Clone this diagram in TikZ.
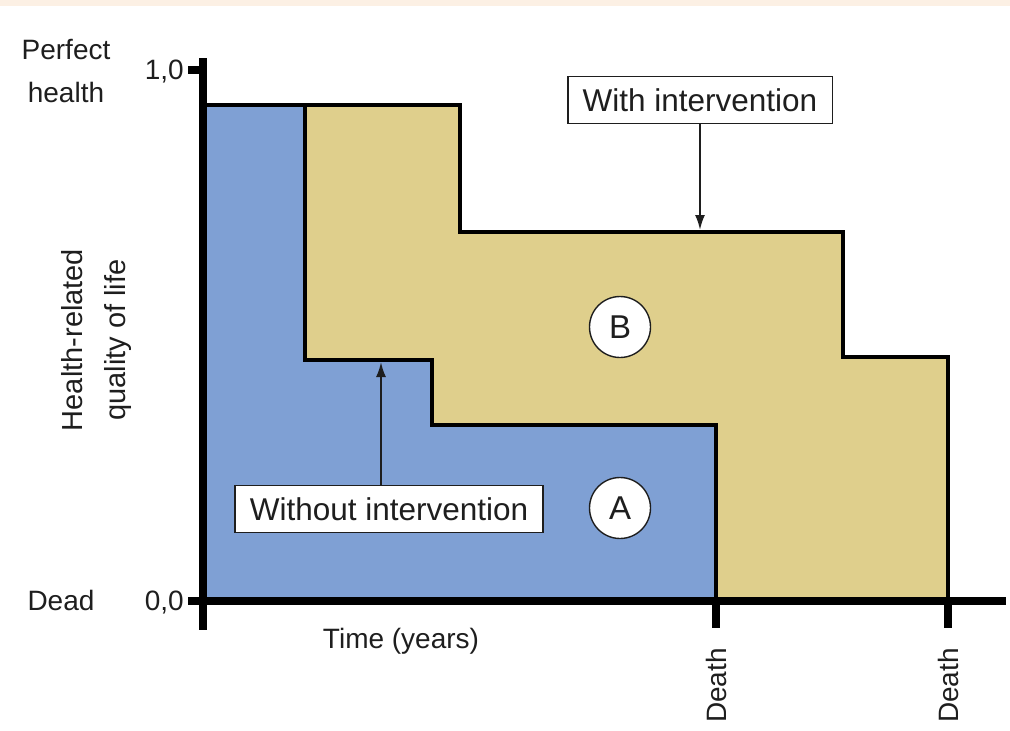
\documentclass[tikz,border=0pt]{standalone}
\usepackage{fontspec}
\setmainfont{Liberation Sans}
\usetikzlibrary{arrows.meta}
\definecolor{blueA}{RGB}{127,160,212}
\definecolor{yellowB}{RGB}{223,207,140}
\definecolor{peach}{RGB}{252,240,228}
\definecolor{ink}{RGB}{30,30,30}
\tikzset{
  lbl/.style={text=ink,font=\fontsize{28}{31}\selectfont,inner sep=0pt},
  ylbl/.style={text=ink,font=\fontsize{29}{32}\selectfont,inner sep=0pt,rotate=90},
  callout/.style={draw=ink,line width=1.6pt,fill=white,text=ink,font=\fontsize{31.5}{34}\selectfont,inner xsep=15pt,inner ysep=7pt,minimum height=47pt},
  tag/.style={circle,draw=ink,line width=1.4pt,fill=white,text=ink,font=\fontsize{33}{36}\selectfont,minimum size=61pt,inner sep=0pt},
  outline/.style={draw=black,line width=4pt,line join=miter},
  axis/.style={draw=black,line width=8pt},
  pointer/.style={draw=ink,line width=2pt,-{Latex[length=15pt,width=10pt]}}
}
\begin{document}
\begin{tikzpicture}[x=1pt,y=-1pt]
\useasboundingbox (0,0) rectangle (1010,731);
\fill[peach] (0,0) rectangle (1010,6);
% regions
\fill[blueA] (203,105) -- (305,105) -- (305,360) -- (432,360) -- (432,425) -- (716,425) -- (716,601) -- (203,601) -- cycle;
\fill[yellowB] (305,105) -- (460,105) -- (460,232) -- (843,232) -- (843,357) -- (948,357) -- (948,601) -- (716,601) -- (716,425) -- (432,425) -- (432,360) -- (305,360) -- cycle;
% outlines
\draw[outline] (203,105) -- (460,105) -- (460,232) -- (843,232) -- (843,357) -- (948,357) -- (948,601);
\draw[outline] (305,105) -- (305,360) -- (432,360) -- (432,425) -- (716,425) -- (716,601);
% axes
\draw[axis] (203,58) -- (203,630);
\draw[axis] (188,601) -- (1006,601);
\draw[axis] (188,70) -- (203,70);
\draw[axis] (716,601) -- (716,628);
\draw[axis] (948,601) -- (948,628);
% labels
\node[lbl] (perfect) at (66,50) {Perfect};
\node[lbl] (health) at (66,92) {health};
\node[lbl,anchor=east] (one) at (184,72) {1,0};
\node[lbl] (dead) at (61,600) {Dead};
\node[lbl,anchor=east] (zero) at (184,603) {0,0};
\node[ylbl] (hr) at (72,340) {Health-related};
\node[ylbl] (qol) at (118,340) {quality of life};
\node[lbl] (time) at (401,641) {Time (years)};
\node[lbl,rotate=90,anchor=east] (death1) at (716,648) {Death};
\node[lbl,rotate=90,anchor=east] (death2) at (948,648) {Death};
% callouts
\node[callout] (with) at (700,100) {With intervention};
\node[callout] (without) at (389,509) {Without intervention};
\coordinate (withtip) at (700,230);
\coordinate (withouttip) at (381,362);
\draw[pointer] (with.south -| withtip) -- (withtip);
\draw[pointer] (without.north -| withouttip) -- (withouttip);
% tags
\node[tag] (B) at (620,327) {B};
\node[tag] (A) at (620,508) {A};
\end{tikzpicture}
\end{document}
